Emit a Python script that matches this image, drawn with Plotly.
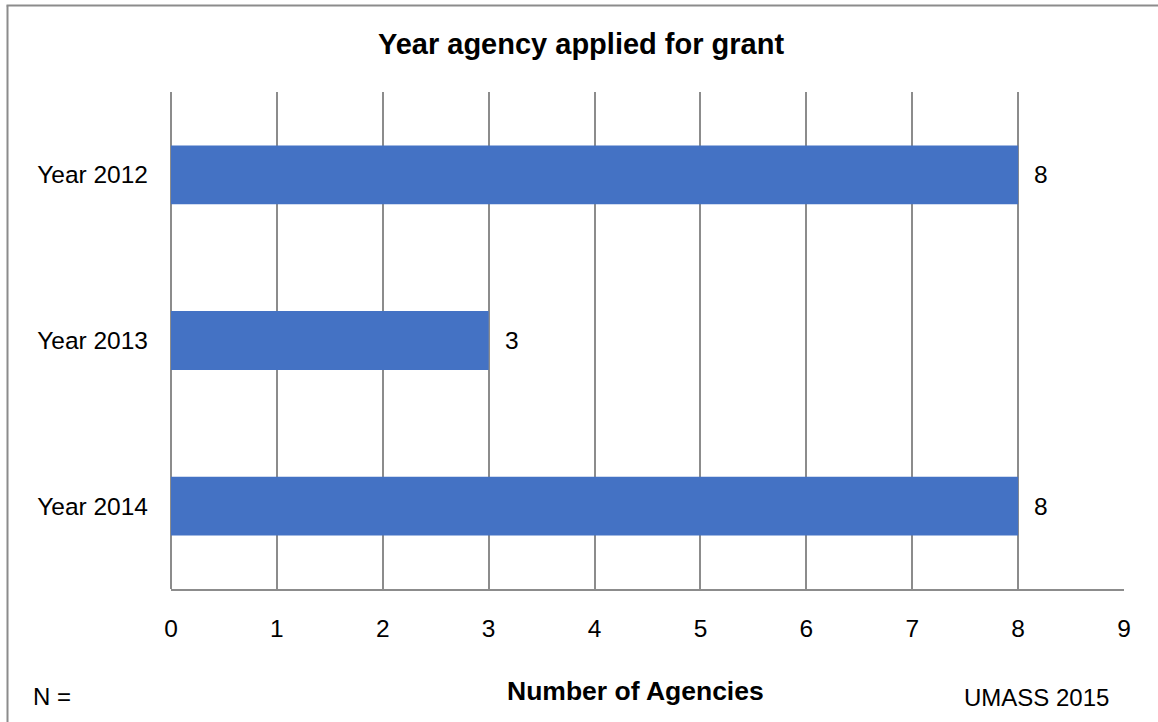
import plotly.graph_objects as go

# Data
categories = ["Year 2012", "Year 2013", "Year 2014"]
agencies = [8, 3, 8]
x_ticks = list(range(0, 10))

W, H = 1158, 722
ML, MR, MT, MB = 171, 34, 92, 133
PW, PH = W - ML - MR, H - MT - MB

FONT = "Liberation Sans, Arial, sans-serif"
GRID = "#8c8c8c"
BAR = "#4472C4"
LABEL_SIZE = 24.5


def px_x(px):
    return (px - ML) / PW


def px_y(py):
    return (H - MB - py) / PH


positions = list(range(len(categories)))

fig = go.Figure(
    go.Bar(
        x=agencies,
        y=positions,
        orientation="h",
        width=0.355,
        marker=dict(color=BAR, line=dict(width=0)),
        hoverinfo="skip",
    )
)

# value labels just past the end of each bar
for pos, val in zip(positions, agencies):
    fig.add_annotation(
        x=val, y=pos, xref="x", yref="y",
        text=str(val), showarrow=False,
        xanchor="left", yanchor="middle", xshift=14,
        font=dict(family=FONT, size=LABEL_SIZE, color="#000000"),
    )

# axis title and footer texts
fig.add_annotation(
    x=px_x(635), y=px_y(691), xref="paper", yref="paper",
    text="<b>Number of Agencies</b>", showarrow=False,
    xanchor="center", yanchor="middle",
    font=dict(family=FONT, size=26.5, color="#000000"),
)
fig.add_annotation(
    x=px_x(31), y=px_y(696), xref="paper", yref="paper",
    text="N =", showarrow=False, xanchor="left", yanchor="middle",
    font=dict(family=FONT, size=24, color="#000000"),
)
fig.add_annotation(
    x=px_x(962), y=px_y(697), xref="paper", yref="paper",
    text="UMASS 2015", showarrow=False, xanchor="left", yanchor="middle",
    font=dict(family=FONT, size=24, color="#000000"),
)

# outer frame (left and top edges)
fig.add_shape(type="line", xref="paper", yref="paper",
              x0=px_x(7.5), x1=px_x(7.5), y0=px_y(5.5), y1=px_y(H + 2),
              line=dict(color=GRID, width=2))
fig.add_shape(type="line", xref="paper", yref="paper",
              x0=px_x(6.5), x1=px_x(W + 2), y0=px_y(5.5), y1=px_y(5.5),
              line=dict(color=GRID, width=2))

fig.update_layout(
    width=W, height=H,
    margin=dict(l=ML, r=MR, t=MT, b=MB, pad=0),
    paper_bgcolor="white", plot_bgcolor="white",
    showlegend=False,
    title=dict(
        text="<b>Year agency applied for grant</b>",
        xref="container", yref="container",
        x=581 / W, y=1 - 44 / H, xanchor="center", yanchor="middle",
        font=dict(family=FONT, size=29, color="#000000"),
    ),
    font=dict(family=FONT, size=LABEL_SIZE, color="#000000"),
    xaxis=dict(
        range=[0, 9], tickvals=x_ticks, ticktext=[str(t) for t in x_ticks],
        showgrid=True, gridcolor=GRID, gridwidth=1.5,
        zeroline=True, zerolinecolor=GRID, zerolinewidth=1.5,
        showline=True, linecolor=GRID, linewidth=1.5,
        ticks="", ticklabelstandoff=17,
        tickfont=dict(family=FONT, size=LABEL_SIZE, color="#000000"),
        fixedrange=True,
    ),
    yaxis=dict(
        range=[2.5, -0.5], tickvals=positions, ticktext=categories,
        showgrid=False, zeroline=False, showline=False,
        ticks="", ticklabelstandoff=22,
        tickfont=dict(family=FONT, size=LABEL_SIZE, color="#000000"),
        fixedrange=True,
    ),
)

fig.write_html("out.html")
